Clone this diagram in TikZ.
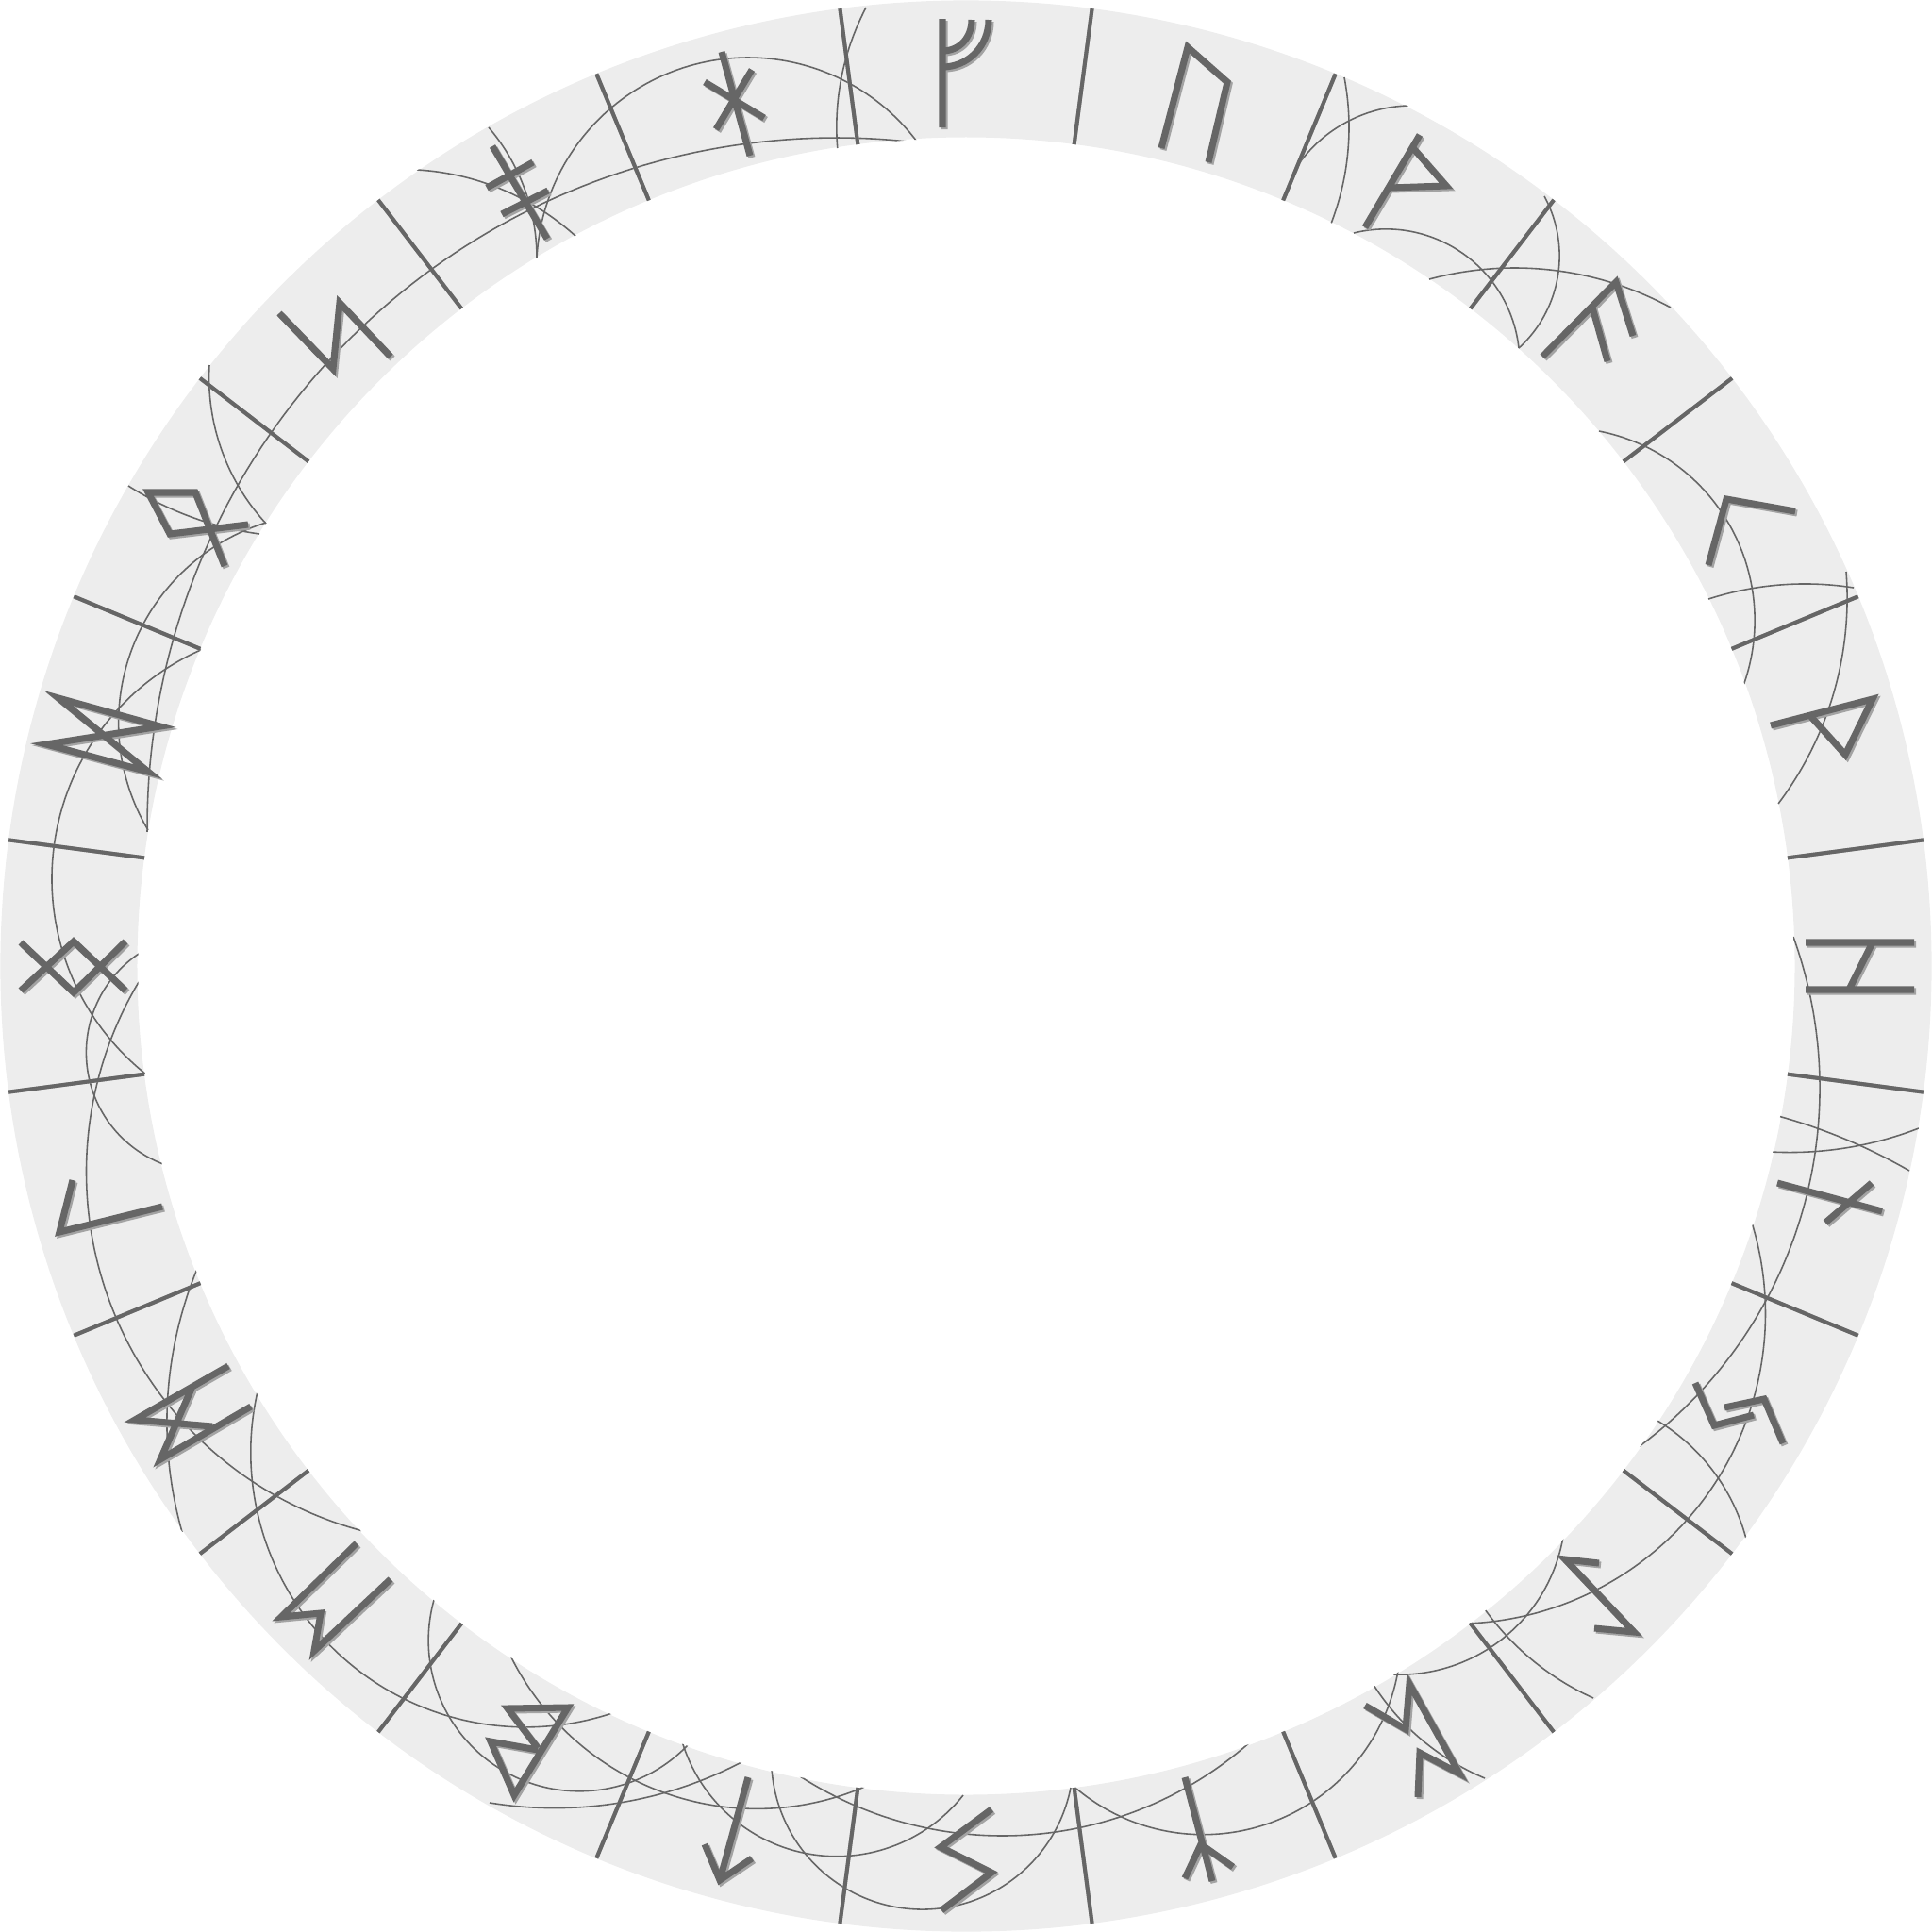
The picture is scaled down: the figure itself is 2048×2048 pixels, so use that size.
\documentclass[tikz,border=0pt]{standalone}
\usetikzlibrary{calc}
\definecolor{band}{HTML}{EDEDED}
\definecolor{ink}{HTML}{666666}
\definecolor{inkshadow}{HTML}{A3A3A3}
\tikzset{
 runestroke/.style={draw=ink, line width=2pt, line join=miter},
 runeshade/.style={draw=inkshadow, line width=2pt, line join=miter, shift={(2,2)}},
 divstroke/.style={draw=ink, line width=1.15pt},
 divshade/.style={draw=inkshadow, line width=1.15pt, shift={(1.5,1.5)}},
 arcline/.style={draw=ink, line width=0.45pt},
}
\newcommand\runepath[1]{\path[runeshade] #1; \path[runestroke] #1;}
% circular arc through three points (image pixel coordinates)
\newcommand\carc[6]{%
 \edef\cxD{\fpeval{2*((#1)*((#4)-(#6)) + (#3)*((#6)-(#2)) + (#5)*((#2)-(#4)))}}%
 \edef\cxU{\fpeval{(((#1)^2+(#2)^2)*((#4)-(#6)) + ((#3)^2+(#4)^2)*((#6)-(#2)) + ((#5)^2+(#6)^2)*((#2)-(#4)))/\cxD}}%
 \edef\cxV{\fpeval{(((#1)^2+(#2)^2)*((#5)-(#3)) + ((#3)^2+(#4)^2)*((#1)-(#5)) + ((#5)^2+(#6)^2)*((#3)-(#1)))/\cxD}}%
 \edef\cxR{\fpeval{sqrt(((#1)-\cxU)^2+((#2)-\cxV)^2)}}%
 \edef\cxA{\fpeval{atand((#2)-\cxV,(#1)-\cxU)}}%
 \edef\cxB{\fpeval{atand((#4)-\cxV,(#3)-\cxU)}}%
 \edef\cxC{\fpeval{atand((#6)-\cxV,(#5)-\cxU)}}%
 \edef\cxDAC{\fpeval{\cxC-\cxA-360*floor((\cxC-\cxA)/360)}}%
 \edef\cxDAB{\fpeval{\cxB-\cxA-360*floor((\cxB-\cxA)/360)}}%
 \edef\cxE{\fpeval{(\cxDAB<\cxDAC) ? (\cxA+\cxDAC) : (\cxA+\cxDAC-360)}}%
 \draw[arcline] plot[domain=\cxA:\cxE, samples=90, variable=\t] ({\cxU+\cxR*cos(\t)},{\cxV+\cxR*sin(\t)});%
}
\begin{document}
\begin{tikzpicture}[x=0.01cm, y=-0.01cm]
\useasboundingbox (0,0) rectangle (2048,2048);
\coordinate (C) at (1024,1024);
\fill[band, even odd rule] (C) circle[radius=10.23cm] (C) circle[radius=8.78cm];
% thin arcs
\begin{scope}[even odd rule]
\clip (C) circle[radius=10.24cm] (C) circle[radius=8.77cm];
\carc{918}{8}{893}{77}{888}{160}
\carc{569}{273}{793}{61}{972}{150}
\carc{972}{151}{370}{360}{156}{882}
\carc{1425}{82}{1430}{133}{1411}{237}
\carc{1378}{172}{1421}{133}{1493}{112}
\carc{1435}{247}{1568}{283}{1610}{369}
\carc{1515}{296}{1608}{284}{1771}{326}
\carc{1637}{208}{1653}{266}{1610}{369}
\carc{1695}{457}{1825}{543}{1848}{727}
\carc{1811}{635}{1908}{619}{1965}{623}
\carc{1957}{606}{1952}{700}{1885}{852}
\carc{1901}{993}{1922}{1235}{1734}{1536}
\carc{1885}{1183}{1950}{1205}{2024}{1241}
\carc{1877}{1221}{1949}{1218}{2034}{1196}
\carc{1857}{1296}{1839}{1535}{1555}{1721}
\carc{1757}{1506}{1815}{1558}{1852}{1635}
\carc{1657}{1629}{1582}{1745}{1477}{1775}
\carc{1574}{1706}{1649}{1778}{1689}{1800}
\carc{1456}{1786}{1525}{1858}{1574}{1885}
\carc{1141}{1896}{1328}{1938}{1482}{1771}
\carc{845}{1881}{1061}{1946}{1326}{1846}
\carc{723}{1846}{836}{1960}{1021}{1903}
\carc{818}{1875}{942}{2020}{1135}{1895}
\carc{542}{1757}{737}{1910}{919}{1893}
\carc{460}{1696}{527}{1873}{729}{1850}
\carc{273}{1475}{303}{1682}{649}{1816}
\carc{519}{1911}{657}{1911}{786}{1868}
\carc{147}{1041}{95}{1295}{385}{1623}
\carc{209}{1345}{177}{1499}{193}{1624}
\carc{215}{688}{55}{928}{155}{1139}
\carc{147}{1011}{92}{1128}{173}{1234}
\carc{136}{515}{200}{547}{275}{566}
\carc{222}{387}{240}{490}{282}{555}
\carc{282}{554}{150}{665}{157}{880}
\carc{442}{180}{546}{207}{611}{251}
\carc{518}{135}{556}{200}{569}{274}
\end{scope}
% dividers
\foreach \a in {7.5,22.5,...,352.5}{
  \path[divshade] ($(C)+(\a:8.78cm)$) -- ($(C)+(\a:10.23cm)$);
  \path[divstroke] ($(C)+(\a:8.78cm)$) -- ($(C)+(\a:10.23cm)$);
}
% runes
\runepath{(999,20) -- (999,135) (999,54) .. controls (1017,54) and (1030,40) .. (1030,21) (999,71) .. controls (1026,71) and (1048,49) .. (1048,21)}
\runepath{(1231,157) -- (1259,50) -- (1301,87) -- (1281,172)}
\runepath{(1447,241) -- (1505,143) (1498,157) -- (1533,197) -- (1473,199)}
\runepath{(1635,378) -- (1713,299) -- (1731,356) (1688,326) -- (1704,383)}
\runepath{(1811,599) -- (1830,529) -- (1903,542)}
\runepath{(1877,769) -- (1985,741) -- (1956,800) -- (1920,760)}
\runepath{(1914,999) -- (2029,999) (1914,1049) -- (2029,1049) (1985,999) -- (1960,1049)}
\runepath{(1884,1254) -- (1995,1284) (1984,1254) -- (1935,1296)}
\runepath{(1797,1466) -- (1817,1511) -- (1859,1500) (1828,1492) -- (1870,1483) -- (1890,1530)}
\runepath{(1695,1657) -- (1659,1653) -- (1732,1730) -- (1690,1726)}
\runepath{(1447,1808) -- (1490,1833) -- (1494,1785) -- (1547,1880) -- (1505,1858) -- (1503,1905)}
\runepath{(1256,1884) -- (1285,1994) (1256,1991) -- (1273,1955) -- (1307,1979)}
\runepath{(1051,1918) -- (997,1958) -- (1051,1985) -- (998,2025)}
\runepath{(793,1884) -- (763,1993) (747,1955) -- (763,1993) -- (797,1970)}
\runepath{(570,1853) -- (538,1811) -- (602,1810) -- (545,1903) -- (520,1846) -- (570,1855)}
\runepath{(378,1636) -- (298,1714) -- (340,1710) -- (333,1750) -- (414,1674)}
\runepath{(242,1448) -- (143,1505) -- (225,1512) (203,1472) -- (170,1547) -- (266,1491)}
\runepath{(77,1251) -- (63,1306) -- (172,1279)}
\runepath{(22,999) -- (78,1052) -- (133,998) (22,1050) -- (78,998) -- (133,1050)}
\runepath{(62,740) -- (170,770) -- (49,789) -- (157,818) -- cycle}
\runepath{(263,556) -- (180,566) -- (157,522) -- (207,522) -- (238,600)}
\runepath{(296,332) -- (353,391) -- (360,321) -- (414,378)}
\runepath{(522,155) -- (580,253) (516,199) -- (565,172) (532,227) -- (581,202)}
\runepath{(765,55) -- (795,165) (747,87) -- (810,125) (797,74) -- (759,137)}
\end{tikzpicture}
\end{document}
